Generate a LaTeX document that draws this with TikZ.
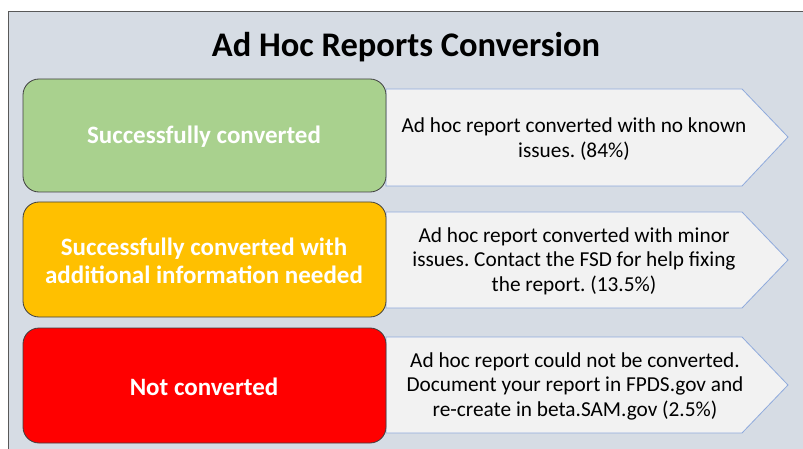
\documentclass[tikz,border=0pt]{standalone}
\usepackage{fontspec}
\setmainfont{Carlito}
\frenchspacing
\definecolor{panelbg}{HTML}{D6DCE4}
\definecolor{panelline}{HTML}{595959}
\definecolor{okgreen}{HTML}{A9D18E}
\definecolor{warnyellow}{HTML}{FFC000}
\definecolor{failred}{HTML}{FF0000}
\definecolor{tagfill}{HTML}{F2F2F2}
\definecolor{tagline}{HTML}{8FAADC}
\definecolor{boxline}{HTML}{404040}
\tikzset{
  x=1pt, y=-1pt,
  status/.style={draw=boxline, line width=0.8pt, rounded corners=16pt},
  statustext/.style={text=white, font=\fontsize{25}{28}\selectfont\bfseries, align=center},
  tag/.style={draw=tagline, fill=tagfill, line width=0.8pt},
  tagtext/.style={text=black, font=\fontsize{21.3}{24.5}\selectfont, align=center},
}
\begin{document}
\begin{tikzpicture}
\useasboundingbox (0,0) rectangle (803,449);
\fill[white] (0,0) rectangle (803,449);
% panel
\fill[panelbg] (8,12) rectangle (803,449);
\draw[panelline, line width=1pt] (8,449) -- (8,12) -- (803,12);
\node[font=\fontsize{34.5}{40}\selectfont\bfseries] (title) at (406,47) {Ad Hoc Reports Conversion};

% row 1
\draw[tag] (386,89) -- (742,89) -- (788,137) -- (742,186) -- (386,186) -- cycle;
\node[tagtext] (d1) at (574,139) {Ad hoc report converted with no known\\issues. (84\%)};
\draw[status, fill=okgreen] (23,79) rectangle (386,192);
\node[statustext] (s1) at (204,137) {Successfully converted};

% row 2
\draw[tag] (386,212) -- (742,212) -- (788,260) -- (742,308) -- (386,308) -- cycle;
\node[tagtext] (d2) at (574,261) {Ad hoc report converted with minor\\issues. Contact the FSD for help fixing\\the report. (13.5\%)};
\draw[status, fill=warnyellow] (23,202) rectangle (386,317);
\node[statustext] (s2) at (204,261) {Successfully converted with\\additional information needed};

% row 3
\draw[tag] (386,337) -- (742,337) -- (788,385) -- (742,433) -- (386,433) -- cycle;
\node[tagtext] (d3) at (575,386) {Ad hoc report could not be converted.\\Document your report in FPDS.gov and\\re-create in beta.SAM.gov (2.5\%)};
\draw[status, fill=failred] (23,328) rectangle (386,443);
\node[statustext] (s3) at (204,387) {Not converted};
\end{tikzpicture}
\end{document}
